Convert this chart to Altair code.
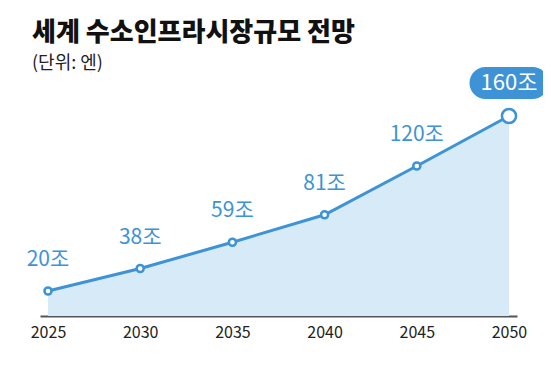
import altair as alt
import pandas as pd

years = [2025, 2030, 2035, 2040, 2045, 2050]
values = [20, 38, 59, 81, 120, 160]
labels = ["20조", "38조", "59조", "81조", "120조", "160조"]
tick_years = [2025, 2030, 2035, 2040, 2045, 2050]

df = pd.DataFrame({"year": years, "value": values, "label": labels})
df["last"] = df["year"] == max(years)

BLUE = "#3d93d6"
FILL = "#d6eaf8"
FONT = "Noto Sans CJK KR"

x = alt.X(
    "year:Q",
    scale=alt.Scale(domain=[2024.566, 2050.434], nice=False, zero=False),
    axis=alt.Axis(
        values=tick_years, format="d", title=None, ticks=False, grid=False,
        domainColor="#555555", domainWidth=2, labelFont=FONT, labelFontSize=16,
        labelColor="#222222", labelPadding=8, labelFlush=False,
    ),
)
y = alt.Y("value:Q", scale=alt.Scale(domain=[0, 200], nice=False), axis=None)

base = alt.Chart(df)

area = base.mark_area(color=FILL, opacity=1).encode(x=x, y=y)
line = base.mark_line(color=BLUE, strokeWidth=3).encode(x=x, y=y)
pts = base.transform_filter("!datum.last").mark_point(
    shape="circle", filled=True, fill="white", stroke=BLUE, strokeWidth=2.5,
    size=50, opacity=1,
).encode(x=x, y=y)
last_pt = base.transform_filter("datum.last").mark_point(
    shape="circle", filled=True, fill="white", stroke=BLUE, strokeWidth=2.5,
    size=200, opacity=1,
).encode(x=x, y=y)
txt = base.transform_filter("!datum.last").mark_text(
    font=FONT, fontSize=21, color=BLUE, baseline="middle", dy=-31,
).encode(x=x, y=y, text="label:N")
pill = base.transform_filter("datum.last").mark_rect(
    width=79, height=32, cornerRadius=16, color=BLUE, yOffset=-33,
).encode(x=x, y=y)
pill_txt = base.transform_filter("datum.last").mark_text(
    font=FONT, fontSize=22, color="white", baseline="middle", dy=-33,
).encode(x=x, y=y, text="label:N")

chart = alt.layer(area, line, pts, last_pt, txt, pill, pill_txt).properties(
    width=477,
    height=250,
    autosize=alt.AutoSizeParams(type="none"),
    padding={"left": 32, "top": 58, "right": 26, "bottom": 45},
    title=alt.TitleParams(
        text="세계 수소인프라시장규모 전망",
        subtitle="(단위: 엔)",
        anchor="start",
        frame="group",
        font=FONT,
        fontSize=26,
        fontWeight=900,
        color="#111111",
        subtitleFont=FONT,
        subtitleFontSize=18,
        subtitleColor="#222222",
        subtitlePadding=9,
        offset=-7,
        dx=-8,
    ),
).configure(background="white").configure_view(stroke=None)

chart.save("out.html", embed_options={"renderer": "svg", "actions": False})
